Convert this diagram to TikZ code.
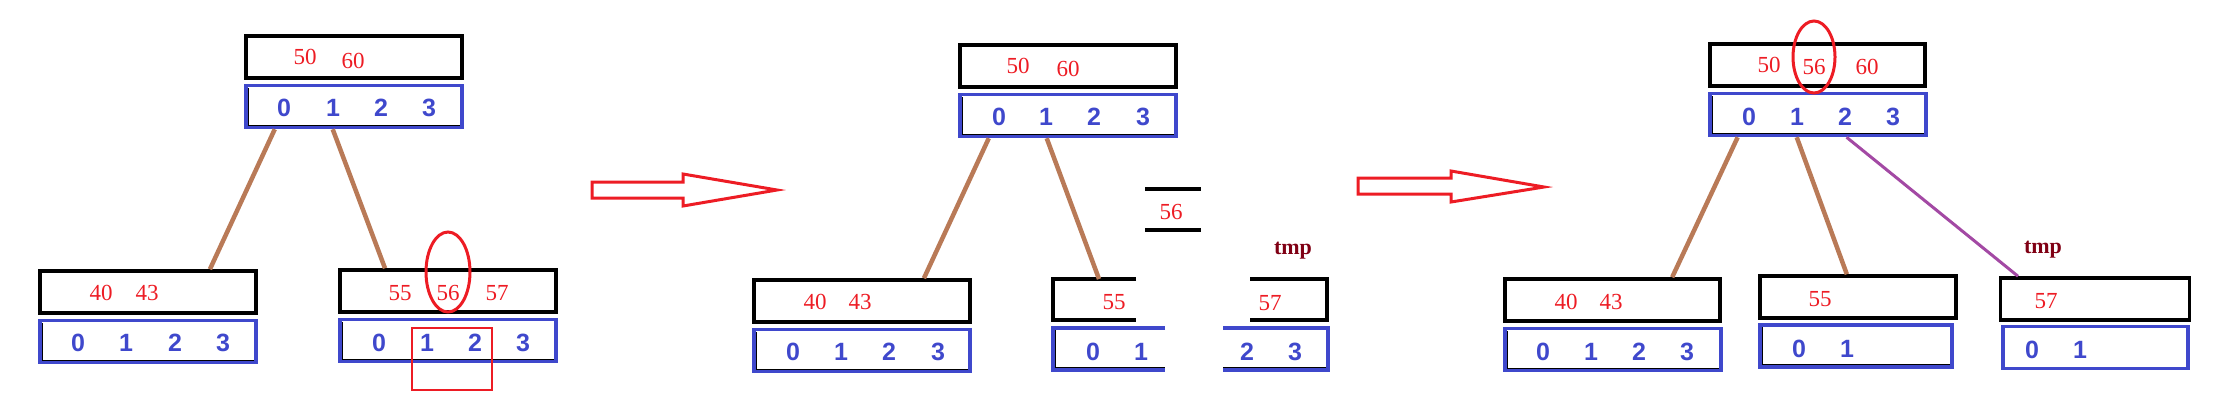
\documentclass[tikz,border=0pt]{standalone}
\usepackage{fontspec}
\usepackage{xcolor}
\usetikzlibrary{calc}
\newfontfamily\keyfamily{Liberation Serif}
\newfontfamily\idxfamily{Liberation Sans}
\definecolor{keyred}{RGB}{237,28,36}
\definecolor{idxblue}{RGB}{63,72,204}
\definecolor{linkbrown}{RGB}{185,122,87}
\definecolor{linkpurple}{RGB}{163,73,164}
\definecolor{tmpred}{RGB}{128,0,20}
\tikzset{
  keybox/.style={draw=black,line width=3.5pt,minimum width=216pt,minimum height=42pt,inner sep=0pt},
  idxbox/.style={draw=idxblue,line width=3.5pt,minimum width=216pt,minimum height=42pt,inner sep=0pt,
    path picture={\draw[black,line width=1.2pt]
      ([xshift=2.4pt,yshift=-2.4pt]path picture bounding box.north west)
      |- ([xshift=-2.4pt,yshift=2.4pt]path picture bounding box.south east);}},
  keytxt/.style={text=keyred,font=\keyfamily\fontsize{23}{23}\selectfont,inner sep=0pt},
  idxtxt/.style={text=idxblue,font=\idxfamily\bfseries\fontsize{25}{25}\selectfont,inner sep=0pt},
  tmptxt/.style={text=tmpred,font=\keyfamily\bfseries\fontsize{22}{22}\selectfont,inner sep=0pt},
  link/.style={draw=linkbrown,line width=4.5pt},
  keyline/.style={draw=black,line width=3.5pt},
  idxline/.style={draw=idxblue,line width=3.5pt},
  mark red/.style={draw=keyred,line width=3pt},
}
\begin{document}
\begin{tikzpicture}[x=1pt,y=-1pt]
\useasboundingbox (0,0) rectangle (2216,416);
% first tree: 56 goes into the right leaf
\node[keybox] (r1k) at (354,57) {};
\node[idxbox] (r1i) at (354,106.5) {};
\node[keytxt] (r1k50) at (305,57) {50};
\node[keytxt] (r1k60) at (353,61) {60};
\node[idxtxt] (r1d0) at (284,108) {0};
\node[idxtxt] (r1d1) at (333,108) {1};
\node[idxtxt] (r1d2) at (381,108) {2};
\node[idxtxt] (r1d3) at (429,108) {3};
\node[keybox] (a1k) at (148,292) {};
\node[idxbox] (a1i) at (148,341.5) {};
\node[keytxt] (a1k40) at (101,293) {40};
\node[keytxt] (a1k43) at (147,293) {43};
\node[idxtxt] (a1d0) at (78,343) {0};
\node[idxtxt] (a1d1) at (126,343) {1};
\node[idxtxt] (a1d2) at (175,343) {2};
\node[idxtxt] (a1d3) at (223,343) {3};
\node[keybox] (b1k) at (448,291) {};
\node[idxbox] (b1i) at (448,340.5) {};
\node[keytxt] (b1k55) at (400,293) {55};
\node[keytxt] (b1k56) at (448,293) {56};
\node[keytxt] (b1k57) at (497,293) {57};
\node[idxtxt] (b1d0) at (379,343) {0};
\node[idxtxt] (b1d1) at (427,343) {1};
\node[idxtxt] (b1d2) at (475,343) {2};
\node[idxtxt] (b1d3) at (523,343) {3};
\draw[link] ($(r1i.south west)!0.139!(r1i.south east)$) -- ($(a1k.north west)!0.782!(a1k.north east)$);
\draw[link] ($(r1i.south west)!0.403!(r1i.south east)$) -- ($(b1k.north west)!0.213!(b1k.north east)$);
\draw[mark red] ([yshift=21pt]b1k56.center) ellipse [x radius=22,y radius=40];
\draw[keyred,line width=1.5pt] (412,328) rectangle (492,390);
% arrow
\draw[mark red,line join=miter] (592,182) -- (683,182) -- (683,174) -- (777,190) -- (683,206) -- (683,198) -- (592,198) -- cycle;
% second tree: the leaf is split, 56 moves up
\node[keybox] (r2k) at (1068,66) {};
\node[idxbox] (r2i) at (1068,115.5) {};
\node[keytxt] (r2k50) at (1018,66) {50};
\node[keytxt] (r2k60) at (1068,69) {60};
\node[idxtxt] (r2d0) at (999,117) {0};
\node[idxtxt] (r2d1) at (1046,117) {1};
\node[idxtxt] (r2d2) at (1094,117) {2};
\node[idxtxt] (r2d3) at (1143,117) {3};
\node[keybox] (a2k) at (862,301) {};
\node[idxbox] (a2i) at (862,350.5) {};
\node[keytxt] (a2k40) at (815,302) {40};
\node[keytxt] (a2k43) at (860,302) {43};
\node[idxtxt] (a2d0) at (793,352) {0};
\node[idxtxt] (a2d1) at (841,352) {1};
\node[idxtxt] (a2d2) at (889,352) {2};
\node[idxtxt] (a2d3) at (938,352) {3};
\draw[keyline] (1136,279) -| (1053,320) -- (1136,320);
\draw[idxline] (1165,328) -| (1053,370) -- (1165,370);
\draw[black,line width=1.2pt] (1055.4,330) -- (1055.4,367.6) -- (1165,367.6);
\draw[keyline] (1250,279) -| (1327,320) -- (1250,320);
\draw[idxline] (1223,328) -| (1328,370) -- (1223,370);
\draw[black,line width=1.2pt] (1223,367.6) -- (1326,367.6);
\coordinate (b2top) at (1099,279);
\node[keytxt] (b2k55) at (1114,302) {55};
\node[keytxt] (c2k57) at (1270,303) {57};
\node[idxtxt] (b2d0) at (1093,352) {0};
\node[idxtxt] (b2d1) at (1141,352) {1};
\node[idxtxt] (c2d2) at (1247,352) {2};
\node[idxtxt] (c2d3) at (1295,352) {3};
\node[keytxt] (m2k56) at (1171,212) {56};
\draw[keyline] (1145,189) -- (1201,189);
\draw[keyline] (1145,230) -- (1201,230);
\node[tmptxt] (tmp2) at (1293,251) {tmp};
\draw[link] ($(r2i.south west)!0.139!(r2i.south east)$) -- ($(a2k.north west)!0.782!(a2k.north east)$);
\draw[link] ($(r2i.south west)!0.403!(r2i.south east)$) -- (b2top);
% arrow
\draw[mark red,line join=miter] (1358,178) -- (1451,178) -- (1451,171) -- (1544,187) -- (1451,202) -- (1451,194) -- (1358,194) -- cycle;
% third tree: 56 in the root, tmp hangs from index 2
\node[keybox,minimum width=215pt] (r3k) at (1817.5,65) {};
\node[idxbox] (r3i) at (1818,114.5) {};
\node[keytxt] (r3k50) at (1769,65) {50};
\node[keytxt] (r3k56) at (1814,67) {56};
\node[keytxt] (r3k60) at (1867,67) {60};
\node[idxtxt] (r3d0) at (1749,117) {0};
\node[idxtxt] (r3d1) at (1797,117) {1};
\node[idxtxt] (r3d2) at (1845,117) {2};
\node[idxtxt] (r3d3) at (1893,117) {3};
\draw[mark red] ([yshift=10pt]r3k56.center) ellipse [x radius=21,y radius=36];
\node[keybox,minimum width=215pt] (a3k) at (1612.5,300) {};
\node[idxbox] (a3i) at (1613,349.5) {};
\node[keytxt] (a3k40) at (1566,302) {40};
\node[keytxt] (a3k43) at (1611,302) {43};
\node[idxtxt] (a3d0) at (1543,352) {0};
\node[idxtxt] (a3d1) at (1591,352) {1};
\node[idxtxt] (a3d2) at (1639,352) {2};
\node[idxtxt] (a3d3) at (1687,352) {3};
\node[keybox,minimum width=196pt] (b3k) at (1858,297) {};
\node[idxbox,minimum width=192pt] (b3i) at (1856,346) {};
\node[keytxt] (b3k55) at (1820,299) {55};
\node[idxtxt] (b3d0) at (1799,349) {0};
\node[idxtxt] (b3d1) at (1847,349) {1};
\node[keybox,minimum width=189pt] (c3k) at (2095,299) {};
\node[idxbox,minimum width=185pt,path picture={}] (c3i) at (2095.5,347.5) {};
\node[keytxt] (c3k57) at (2046,301) {57};
\node[idxtxt] (c3d0) at (2032,350) {0};
\node[idxtxt] (c3d1) at (2080,350) {1};
\node[tmptxt] (tmp3) at (2043,250) {tmp};
\draw[link] ($(r3i.south west)!0.134!(r3i.south east)$) -- ($(a3k.north west)!0.773!(a3k.north east)$);
\draw[link] ($(r3i.south west)!0.403!(r3i.south east)$) -- ($(b3k.north west)!0.444!(b3k.north east)$);
\draw[draw=linkpurple,line width=3pt] ($(r3i.south west)!0.63!(r3i.south east)$) -- ($(c3k.north west)!0.1!(c3k.north east)$);
\end{tikzpicture}
\end{document}
